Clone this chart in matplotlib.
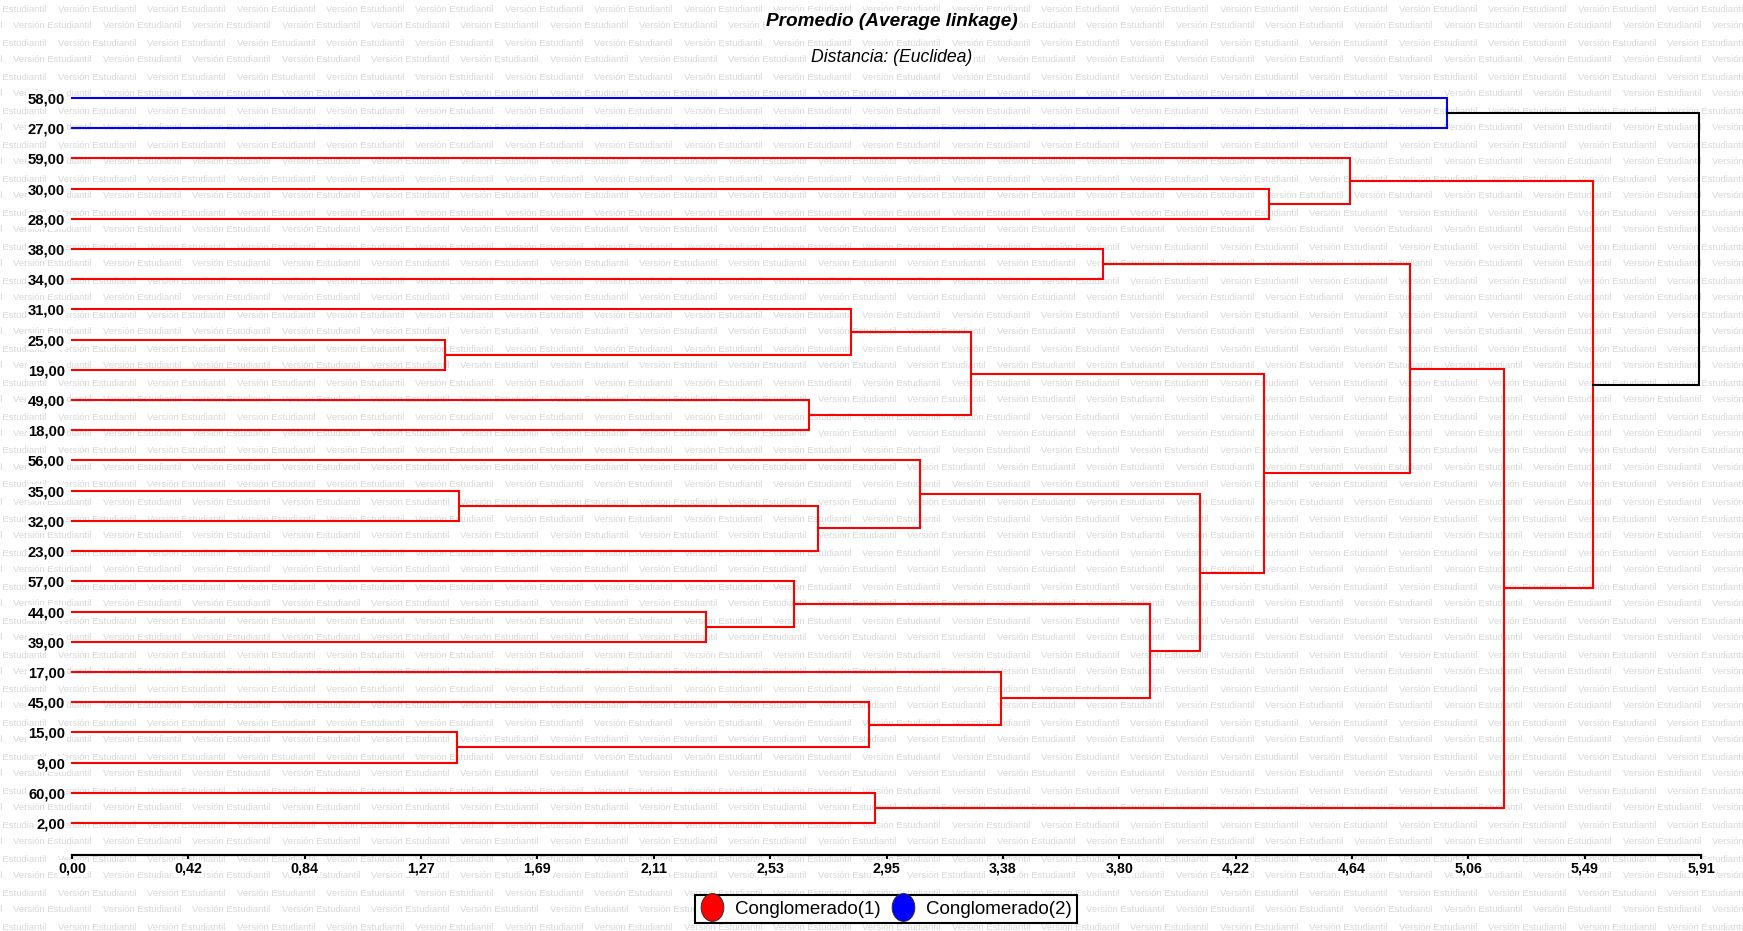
import numpy as np
import matplotlib.pyplot as plt
from matplotlib.lines import Line2D
from matplotlib.path import Path
from matplotlib.transforms import Affine2D

plt.rcParams['font.family'] = ['Liberation Sans', 'DejaVu Sans']

# hojas del dendrograma (orden de arriba hacia abajo)
leaves = ['58,00', '27,00', '59,00', '30,00', '28,00', '38,00', '34,00', '31,00',
          '25,00', '19,00', '49,00', '18,00', '56,00', '35,00', '32,00', '23,00',
          '57,00', '44,00', '39,00', '17,00', '45,00', '15,00', '9,00', '60,00', '2,00']
grupo = [2, 2] + [1] * 23

# uniones: indices 0..24 son hojas, 25.. son los nuevos conglomerados
merge_a = [8, 21, 13, 17, 16, 10, 27, 7, 20, 23, 12, 32, 19, 5, 29, 35, 36, 3, 2, 38, 0, 44, 43, 45]
merge_b = [9, 22, 14, 18, 28, 11, 15, 25, 26, 24, 31, 30, 33, 6, 37, 39, 40, 4, 42, 41, 1, 34, 46, 47]
merge_h = [1.353, 1.396, 1.405, 2.301, 2.617, 2.674, 2.707, 2.827, 2.889, 2.913, 3.074,
           3.262, 3.369, 3.739, 3.911, 4.090, 4.324, 4.343, 4.636, 4.853, 4.985, 5.193,
           5.516, 5.902]
x_max = 5.908
xticks = np.linspace(0, x_max, 15)

colores = {1: '#ff0000', 2: '#0000ff'}

W, H = 1743, 931
fig = plt.figure(figsize=(W / 100, H / 100), dpi=100)

# marca de agua
ry = 9.0
r = 0
while ry < H + 10:
    x0 = (57.7 if r % 2 == 0 else 13.3) - 89.4
    while x0 < W:
        fig.text(x0 / W, 1 - ry / H, 'Versión Estudiantil', fontsize=6.8,
                 color='#d8d8d8', ha='left', va='center', zorder=-1)
        x0 += 89.4
    ry += 17.0
    r += 1

ax = fig.add_axes([72 / W, 76 / H, (1701 - 72) / W, (855 - 67.8) / H])
ax.set_facecolor('none')

n = len(leaves)
pos_y = {i: float(i) for i in range(n)}
altura = {i: 0.0 for i in range(n)}
miembros = {i: {i} for i in range(n)}

for k, (a, b, h) in enumerate(zip(merge_a, merge_b, merge_h)):
    nodo = n + k
    m = miembros[a] | miembros[b]
    gs = {grupo[i] for i in m}
    col = colores[gs.pop()] if len(gs) == 1 else 'black'
    ax.plot([altura[a], h, h, altura[b]], [pos_y[a], pos_y[a], pos_y[b], pos_y[b]],
            color=col, lw=1.5, clip_on=False, solid_joinstyle='miter')
    pos_y[nodo] = (pos_y[a] + pos_y[b]) / 2
    altura[nodo] = h
    miembros[nodo] = m

ax.set_xlim(0, x_max)
ax.set_ylim(n - 1 + 1.06, -1.0)
ax.set_yticks(range(n))
ax.set_yticklabels(leaves, fontsize=10.7, fontweight='bold')
ax.set_xticks(xticks)
ax.set_xticklabels([f'{v:.2f}'.replace('.', ',') for v in xticks], fontsize=10.3, fontweight='bold')
ax.tick_params(axis='y', length=0, pad=5)
ax.tick_params(axis='x', length=3, width=1.5, pad=1.5, direction='out')
for s in ['top', 'right', 'left']:
    ax.spines[s].set_visible(False)
ax.spines['bottom'].set_linewidth(1.6)
for lbl in ax.get_xticklabels() + ax.get_yticklabels():
    lbl.set_bbox(dict(facecolor='white', edgecolor='none', pad=1))

fig.text(892 / W, 1 - 21 / H, 'Promedio (Average linkage)', fontsize=13.7,
         fontweight='bold', fontstyle='italic', ha='center', va='center',
         bbox=dict(facecolor='white', edgecolor='none', pad=1))
fig.text(892 / W, 1 - 58 / H, 'Distancia: (Euclidea)', fontsize=12.7,
         fontstyle='italic', ha='center', va='center',
         bbox=dict(facecolor='white', edgecolor='none', pad=1))

elipse = Path.unit_circle().transformed(Affine2D().scale(0.816, 1.0))
handles = [Line2D([], [], ls='none', marker=elipse, markersize=20, markerfacecolor=colores[g],
                  markeredgecolor='#303030', markeredgewidth=0.7) for g in (1, 2)]
leg = fig.legend(handles, ['Conglomerado(1)', 'Conglomerado(2)'], loc='center',
                 bbox_to_anchor=(886 / W, 1 - 909 / H), ncol=2, fontsize=13.5,
                 frameon=True, fancybox=False, edgecolor='black', framealpha=1,
                 borderpad=0.28, handlelength=1.25, handletextpad=0.61, columnspacing=0.53,
                 borderaxespad=0)
leg.get_frame().set_linewidth(1.5)

fig.savefig('out.png', dpi=100)
